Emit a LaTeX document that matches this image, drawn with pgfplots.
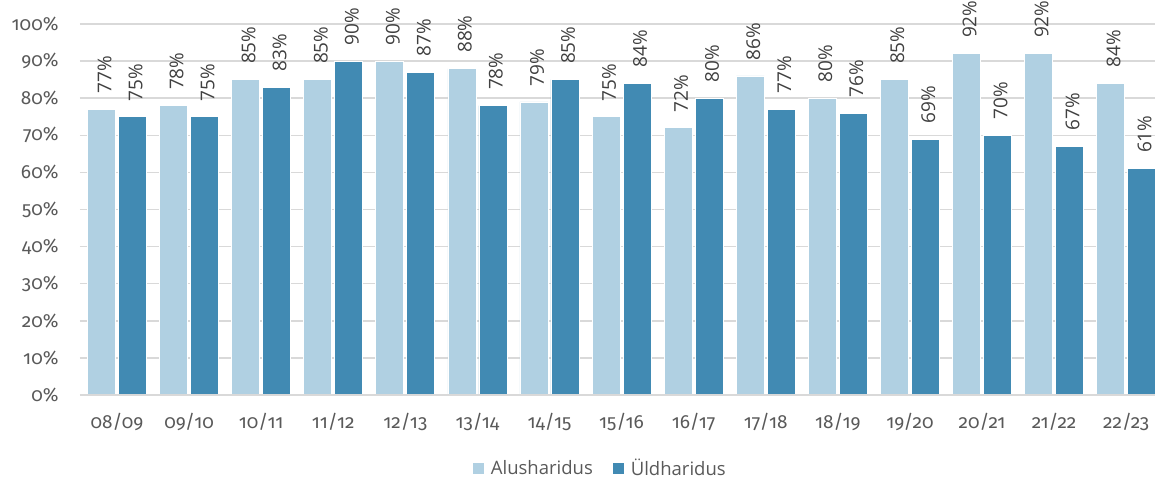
\documentclass[border=0pt]{standalone}
\usepackage{pgfplots}
\pgfplotsset{compat=1.18}
\usepackage{fontspec}
\setmainfont{Open Sans}
\newfontfamily\tickfont[Numbers=OldStyle]{Fira Sans}
\definecolor{light}{HTML}{B0D0E2}
\definecolor{dark}{HTML}{418AB3}
\definecolor{gridc}{HTML}{D9D9D9}
\definecolor{txt}{HTML}{595959}
\definecolor{lbl}{HTML}{404040}
\pgfplotsset{/pgfplots/ybar legend/.style={/pgfplots/legend image code/.code={\fill[##1,draw=none] (0pt,-5.5pt) rectangle (11pt,5.5pt);}}}
\begin{document}
\begin{tikzpicture}
\begin{axis}[
  scale only axis, width=1075pt, height=371pt,
  xmin=-0.513, xmax=14.40, ymin=0, ymax=100,
  ybar=3pt, bar width=28pt,
  xtick={0,...,14},
  xticklabels={08/09,09/10,10/11,11/12,12/13,13/14,14/15,15/16,16/17,17/18,18/19,19/20,20/21,21/22,22/23},
  ytick={0,10,...,100},
  yticklabels={0\%,10\%,20\%,30\%,40\%,50\%,60\%,70\%,80\%,90\%,100\%},
  major tick length=0,
  ymajorgrids, grid style={draw=gridc, line width=1.5pt},
  axis line style={draw=none},
  clip=false,
  tick label style={font=\tickfont\fontsize{19}{22}\selectfont, text=txt},
  yticklabel style={xshift=-18pt},
  xticklabel style={yshift=-15pt},
  /pgf/number format/assume math mode=true,
  nodes near coords={\pgfmathprintnumber{\pgfplotspointmeta}\%},
  every node near coord/.append style={rotate=90, anchor=west, font=\fontsize{19}{22}\selectfont, text=lbl, xshift=12pt, yshift=-3pt},
  legend columns=2,
  legend style={at={(axis description cs:0.484,-0.197)}, anchor=center, draw=none, fill=none,
    font=\fontsize{18.5}{22}\selectfont, text=txt, inner sep=1pt,
    /tikz/every odd column/.append style={column sep=5pt},
    /tikz/every even column/.append style={column sep=18pt}},
]
\addplot[fill=light, draw=white, line width=0.8pt] coordinates {
(0,77) (1,78) (2,85) (3,85) (4,90) (5,88) (6,79) (7,75) (8,72) (9,86) (10,80) (11,85) (12,92) (13,92) (14,84)};
\addlegendentry{Alusharidus}
\addplot[fill=dark, draw=white, line width=0.8pt] coordinates {
(0,75) (1,75) (2,83) (3,90) (4,87) (5,78) (6,85) (7,84) (8,80) (9,77) (10,76) (11,69) (12,70) (13,67) (14,61)};
\addlegendentry{Üldharidus}
\draw[gridc, line width=2pt] (rel axis cs:0,0) -- (rel axis cs:1,0);
\coordinate (bl) at (rel axis cs:0,0);
\coordinate (tr) at (rel axis cs:1,1);
\end{axis}
\pgfresetboundingbox
\path ([shift={(-80pt,-85pt)}]bl) rectangle ([shift={(0pt,24pt)}]tr);
\end{tikzpicture}
\end{document}
